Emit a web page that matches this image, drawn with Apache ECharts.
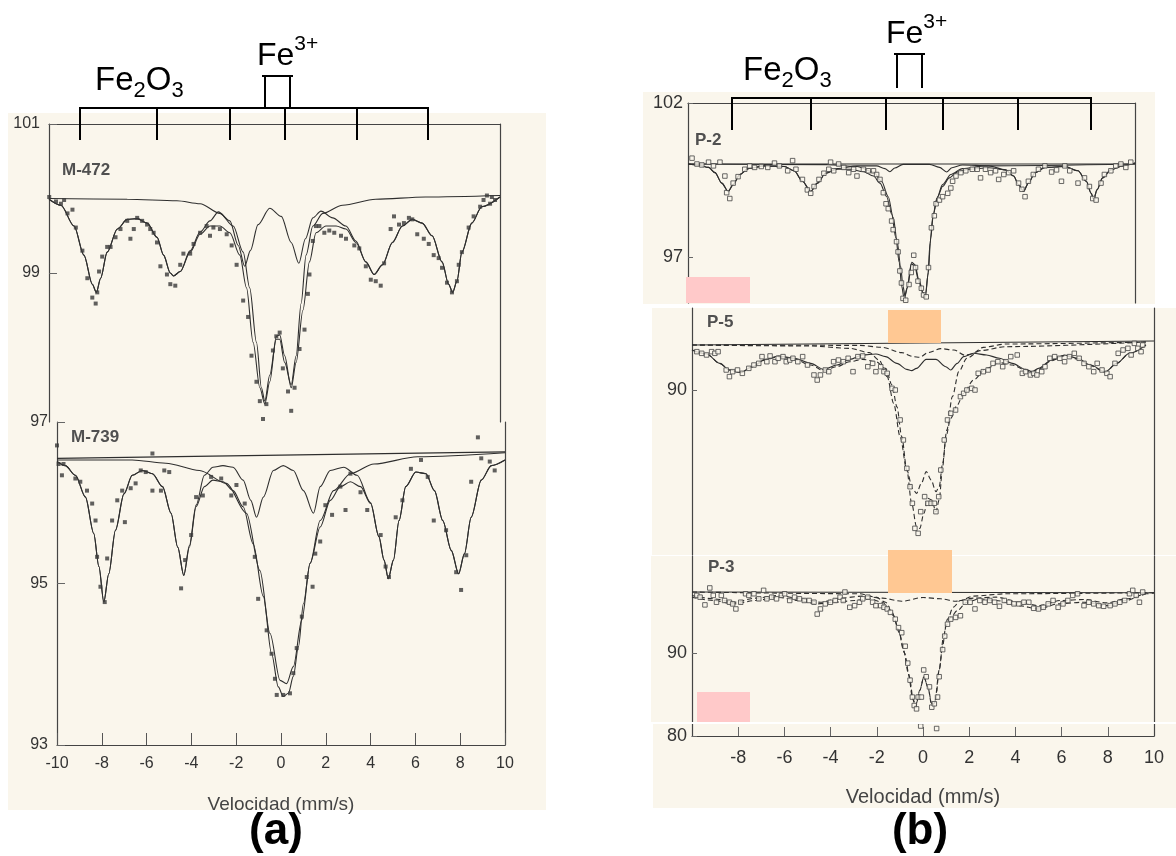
<!DOCTYPE html>
<html lang="es">
<head>
<meta charset="UTF-8">
<title>Espectros Mössbauer</title>
<script src="https://cdn.jsdelivr.net/npm/echarts@6.0.0/dist/echarts.min.js"></script>
</head>
<body style="margin:0;background:#fff">
<div id="main" style="width:1176px;height:856px"></div>
<script>
// ---- datos: [velocidad mm/s, transmision %] ----
// (a) M-472
var m472Points = [[-9.99,100.02],[-9.69,99.96],[-9.47,99.93],[-9.33,99.98],[-9.18,99.80],[-8.96,99.85],[-8.81,99.61],[-8.52,99.30],[-8.30,98.93],[-8.08,98.67],[-7.93,98.59],[-7.86,98.74],[-7.78,99.02],[-7.64,99.22],[-7.42,99.35],[-7.27,99.35],[-7.05,99.48],[-6.83,99.59],[-6.53,99.70],[-6.39,99.46],[-6.24,99.59],[-6.09,99.74],[-5.87,99.70],[-5.65,99.65],[-5.51,99.59],[-5.36,99.54],[-5.21,99.41],[-5.06,99.09],[-4.77,98.98],[-4.62,98.85],[-4.40,98.83],[-4.18,99.11],[-4.04,99.26],[-3.74,99.26],[-3.59,99.39],[-3.30,99.54],[-3.01,99.63],[-2.86,99.50],[-2.71,99.61],[-2.42,99.59],[-2.12,99.52],[-1.90,99.37],[-1.68,99.11],[-1.39,98.63],[-1.17,98.41],[-1.02,97.89],[-0.80,97.54],[-0.65,97.28],[-0.51,97.04],[-0.36,97.24],[-0.07,97.96],[0.08,98.15],[0.23,98.20],[0.37,97.72],[0.60,97.41],[0.74,97.15],[0.89,97.46],[1.11,97.98],[1.33,98.24],[1.48,98.72],[1.55,98.98],[1.70,99.43],[1.84,99.63],[1.99,99.63],[2.21,99.54],[2.43,99.57],[2.65,99.54],[2.95,99.50],[3.17,99.46],[3.54,99.37],[3.76,99.33],[4.05,99.09],[4.27,98.91],[4.49,98.89],[4.71,98.83],[4.86,99.13],[5.15,99.59],[5.30,99.76],[5.52,99.65],[5.74,99.67],[5.96,99.74],[6.11,99.72],[6.33,99.52],[6.62,99.46],[6.84,99.39],[7.06,99.24],[7.28,99.20],[7.43,99.07],[7.65,98.87],[7.87,98.74],[8.09,98.89],[8.17,99.11],[8.31,99.28],[8.61,99.61],[8.83,99.76],[9.12,99.89],[9.27,99.98],[9.42,100.04],[9.56,99.93],[9.64,100.02],[9.78,99.98]];
var m472Fit = [[-10,99.99],[-9.47,99.91],[-8.89,99.63],[-8.45,99.24],[-8.08,98.85],[-7.90,98.74],[-7.71,98.93],[-7.42,99.28],[-6.97,99.59],[-6.53,99.72],[-6.09,99.73],[-5.65,99.67],[-5.21,99.48],[-4.92,99.24],[-4.62,99.00],[-4.48,98.96],[-4.18,99.02],[-3.74,99.28],[-3.30,99.52],[-2.86,99.63],[-2.42,99.63],[-1.98,99.54],[-1.54,99.24],[-1.24,98.80],[-0.95,98.07],[-0.65,97.46],[-0.43,97.24],[-0.21,97.54],[0.08,98.15],[0.23,98.17],[0.45,97.89],[0.74,97.46],[0.96,97.80],[1.26,98.50],[1.55,99.15],[1.84,99.54],[2.28,99.63],[2.73,99.63],[3.17,99.59],[3.61,99.41],[4.05,99.15],[4.42,98.98],[4.79,99.11],[5.23,99.41],[5.67,99.63],[6.11,99.72],[6.55,99.67],[6.99,99.50],[7.43,99.15],[7.72,98.85],[7.90,98.74],[8.09,98.89],[8.31,99.28],[8.75,99.67],[9.19,99.89],[10,100.02]];
var m472Sextet = [[-10,99.99],[-9.47,99.91],[-8.89,99.63],[-8.45,99.24],[-8.08,98.85],[-7.90,98.74],[-7.71,98.93],[-7.42,99.28],[-6.97,99.59],[-6.53,99.72],[-6.09,99.73],[-5.65,99.67],[-5.21,99.48],[-4.92,99.24],[-4.62,99.00],[-4.48,98.96],[-4.18,99.02],[-3.74,99.30],[-3.30,99.55],[-2.86,99.70],[-2.49,99.82],[-1.98,99.70],[-1.61,99.37],[-1.32,99.09],[-1.07,99.30],[-0.73,99.65],[-0.21,99.87],[0.30,99.76],[0.74,99.41],[1.08,99.13],[1.37,99.46],[1.70,99.74],[2.06,99.83],[2.58,99.74],[3.17,99.63],[3.61,99.43],[4.05,99.15],[4.42,98.98],[4.79,99.11],[5.23,99.41],[5.67,99.63],[6.11,99.72],[6.55,99.67],[6.99,99.50],[7.43,99.15],[7.72,98.85],[7.90,98.74],[8.09,98.89],[8.31,99.28],[8.75,99.67],[9.19,99.89],[10,100.02]];
var m472Doublet = [[-10,100.00],[-6.53,99.99],[-4.33,99.97],[-3.30,99.93],[-2.42,99.80],[-1.83,99.63],[-1.39,99.28],[-1.10,98.80],[-0.80,98.07],[-0.58,97.46],[-0.43,97.28],[-0.21,97.63],[0.08,98.11],[0.23,98.11],[0.45,97.80],[0.74,97.50],[0.96,97.89],[1.18,98.59],[1.40,99.24],[1.70,99.63],[2.14,99.80],[3.02,99.91],[4.49,99.99],[6.70,100.02],[10,100.04]];

// (a) M-739
var m739Points = [[-10,96.71],[-9.93,96.48],[-9.71,96.48],[-9.78,96.34],[-9.18,96.30],[-8.96,96.26],[-8.66,96.15],[-8.43,95.99],[-8.28,95.78],[-8.21,95.33],[-8.06,94.96],[-7.87,94.77],[-7.76,95.31],[-7.54,95.78],[-7.31,96.03],[-7.09,96.15],[-6.97,95.76],[-6.71,96.18],[-6.49,96.24],[-6.26,96.40],[-6.04,96.38],[-5.74,96.15],[-5.74,96.61],[-5.36,96.15],[-5.21,96.40],[-4.99,96.38],[-4.46,94.94],[-4.28,95.29],[-4.01,95.60],[-3.79,96.07],[-3.49,96.09],[-3.12,96.32],[-2.67,96.30],[-2.22,96.09],[-1.99,96.22],[-1.62,95.99],[-1.17,95.33],[-1.02,94.81],[-0.64,94.42],[-0.42,94.13],[-0.27,93.82],[-0.19,93.62],[0.10,93.62],[0.40,93.64],[0.55,93.89],[0.70,94.20],[0.93,94.59],[1.15,95.08],[1.41,94.96],[1.53,95.37],[1.75,95.52],[1.98,95.97],[2.28,95.85],[2.65,96.20],[2.88,95.91],[3.10,96.36],[3.55,96.13],[3.85,95.91],[4.45,95.60],[4.67,95.21],[4.82,95.08],[5.12,95.82],[5.42,96.03],[5.80,96.42],[6.25,96.53],[6.55,96.32],[6.82,95.78],[7.37,95.66],[7.82,95.14],[8.04,94.92],[8.27,95.35],[8.49,96.26],[8.79,96.81],[8.94,96.55],[9.32,96.51],[9.54,96.40]];
var m739Base = [[-10,96.55],[10,96.63]];
var m739Fit = [[-10,96.51],[-9.63,96.46],[-9.18,96.34],[-8.73,96.07],[-8.36,95.62],[-8.13,95.21],[-7.91,94.77],[-7.69,95.12],[-7.39,95.66],[-7.01,96.11],[-6.64,96.34],[-6.19,96.40],[-5.74,96.36],[-5.29,96.20],[-4.91,95.87],[-4.61,95.45],[-4.34,95.10],[-4.09,95.45],[-3.79,95.95],[-3.42,96.20],[-3.04,96.28],[-2.59,96.26],[-2.14,96.15],[-1.69,95.95],[-1.24,95.49],[-0.79,94.84],[-0.42,94.13],[-0.12,93.72],[0.10,93.60],[0.33,93.64],[0.55,93.85],[0.78,94.22],[1.00,94.75],[1.30,95.25],[1.75,95.70],[2.20,96.03],[2.65,96.20],[3.10,96.26],[3.55,96.20],[4.00,95.99],[4.37,95.58],[4.60,95.29],[4.79,95.06],[5.02,95.29],[5.27,95.78],[5.57,96.20],[6.02,96.38],[6.47,96.36],[6.85,96.15],[7.22,95.78],[7.60,95.41],[7.93,95.12],[8.19,95.37],[8.49,95.82],[8.94,96.28],[9.39,96.46],[10,96.53]];
var m739Sextet = [[-10,96.51],[-9.63,96.46],[-9.18,96.34],[-8.73,96.07],[-8.36,95.62],[-8.13,95.21],[-7.91,94.77],[-7.69,95.12],[-7.39,95.66],[-7.01,96.11],[-6.64,96.34],[-6.19,96.40],[-5.74,96.36],[-5.29,96.20],[-4.91,95.87],[-4.61,95.45],[-4.34,95.10],[-4.09,95.47],[-3.79,95.97],[-3.42,96.34],[-3.04,96.44],[-2.59,96.46],[-2.14,96.44],[-1.69,96.28],[-1.35,96.03],[-1.09,95.82],[-0.79,96.07],[-0.34,96.40],[0.10,96.46],[0.55,96.40],[1.00,96.15],[1.45,95.87],[1.75,96.20],[2.20,96.40],[2.80,96.44],[3.40,96.34],[4.00,96.00],[4.37,95.58],[4.60,95.29],[4.79,95.06],[5.02,95.29],[5.27,95.78],[5.57,96.20],[6.02,96.38],[6.47,96.36],[6.85,96.15],[7.22,95.78],[7.60,95.41],[7.93,95.12],[8.19,95.37],[8.49,95.82],[8.94,96.28],[9.39,96.46],[10,96.53]];
var m739Doublet = [[-10,96.53],[-6.64,96.53],[-5.14,96.49],[-3.64,96.40],[-2.44,96.24],[-1.54,95.87],[-0.94,95.16],[-0.49,94.38],[-0.04,93.80],[0.25,93.76],[0.55,93.97],[0.93,94.55],[1.30,95.25],[1.75,95.78],[2.35,96.15],[3.10,96.36],[4.15,96.48],[6.10,96.57],[10,96.62]];

// (b) P-2
var p2Points = [[-9.82,100.21],[-9.60,100.02],[-9.38,99.99],[-9.08,100.08],[-8.86,99.96],[-8.57,100.08],[-8.35,99.63],[-8.27,99.09],[-8.13,98.90],[-7.98,99.40],[-7.76,99.61],[-7.46,99.85],[-7.24,99.96],[-7.02,99.91],[-6.72,99.94],[-6.43,99.91],[-6.13,100.05],[-5.91,99.96],[-5.54,99.80],[-5.32,100.13],[-5.17,99.85],[-4.88,99.52],[-4.66,99.18],[-4.51,99.07],[-4.36,99.29],[-4.14,99.52],[-3.92,99.72],[-3.70,99.85],[-3.62,100.08],[-3.48,99.80],[-3.26,100.02],[-3.03,99.91],[-2.81,99.74],[-2.59,99.85],[-2.44,99.63],[-2.15,99.85],[-1.93,99.80],[-1.70,99.80],[-1.56,99.68],[-1.41,99.52],[-1.26,99.09],[-1.14,98.73],[-1.04,98.57],[-0.89,98.17],[-0.82,97.89],[-0.67,97.50],[-0.60,97.17],[-0.52,96.55],[-0.45,96.16],[-0.38,95.66],[-0.26,95.60],[-0.11,96.11],[-0.01,96.50],[0.10,97.06],[0.18,96.66],[0.29,96.22],[0.44,95.99],[0.54,95.77],[0.66,95.71],[0.76,96.66],[0.89,97.95],[1.02,98.34],[1.10,98.73],[1.25,98.85],[1.39,98.96],[1.62,99.07],[1.76,99.24],[1.84,99.46],[1.99,99.63],[2.21,99.74],[2.43,99.80],[2.72,99.85],[2.94,99.85],[3.09,99.57],[3.31,99.85],[3.54,99.74],[3.76,99.80],[3.90,99.52],[4.13,99.68],[4.35,99.74],[4.57,99.80],[4.79,99.40],[4.94,99.20],[5.08,98.96],[5.23,99.46],[5.45,99.68],[5.68,99.85],[5.97,99.96],[6.27,99.76],[6.49,99.83],[6.71,99.46],[6.86,99.96],[7.08,99.80],[7.45,99.40],[7.74,99.57],[7.96,99.29],[8.11,98.90],[8.26,98.85],[8.48,99.40],[8.63,99.68],[8.92,99.80],[9.14,99.96],[9.37,100.02],[9.59,99.91],[9.81,100.08]];
var p2Base = [[-10,100.02],[10,100.02]];
var p2Fit = [[-10,100.02],[-9.53,99.99],[-9.08,99.91],[-8.79,99.74],[-8.49,99.40],[-8.20,99.13],[-7.98,99.35],[-7.68,99.68],[-7.31,99.87],[-6.58,99.96],[-5.69,99.94],[-5.25,99.80],[-4.88,99.46],[-4.51,99.13],[-4.21,99.40],[-3.84,99.72],[-3.33,99.85],[-2.74,99.85],[-2.15,99.77],[-1.70,99.63],[-1.41,99.40],[-1.11,98.96],[-0.89,98.40],[-0.70,97.62],[-0.55,96.83],[-0.44,96.05],[-0.33,95.66],[-0.20,95.99],[-0.01,96.78],[0.14,96.72],[0.32,96.22],[0.51,95.83],[0.63,95.77],[0.75,96.50],[0.86,97.62],[0.98,98.40],[1.17,98.96],[1.39,99.29],[1.69,99.57],[2.06,99.76],[2.58,99.85],[3.46,99.90],[4.20,99.83],[4.57,99.63],[4.79,99.35],[5.01,99.13],[5.23,99.40],[5.53,99.74],[5.97,99.91],[6.86,99.94],[7.45,99.80],[7.82,99.46],[8.04,99.07],[8.15,98.87],[8.30,99.18],[8.55,99.57],[8.92,99.83],[9.44,99.96],[10,100.05]];
var p2Sextet = [[-10,100.02],[-9.53,99.99],[-9.08,99.91],[-8.79,99.74],[-8.49,99.40],[-8.20,99.13],[-7.98,99.35],[-7.68,99.68],[-7.31,99.87],[-6.58,99.96],[-5.69,99.94],[-5.25,99.80],[-4.88,99.46],[-4.51,99.13],[-4.21,99.40],[-3.84,99.72],[-3.33,99.87],[-2.44,99.96],[-1.56,99.96],[-1.19,99.87],[-0.97,99.77],[-0.75,99.89],[-0.38,100.01],[0.80,100.01],[1.25,99.91],[1.57,99.76],[1.81,99.90],[2.28,99.99],[3.46,99.96],[4.20,99.83],[4.57,99.63],[4.79,99.35],[5.01,99.13],[5.23,99.40],[5.53,99.74],[5.97,99.91],[6.86,99.94],[7.45,99.80],[7.82,99.46],[8.04,99.07],[8.15,98.87],[8.30,99.18],[8.55,99.57],[8.92,99.83],[9.44,99.96],[10,100.05]];
var p2Doublet = [[-10,100.02],[-3.77,100.00],[-2.44,99.94],[-1.70,99.76],[-1.34,99.46],[-1.04,98.96],[-0.82,98.29],[-0.64,97.50],[-0.49,96.72],[-0.38,96.05],[-0.29,95.74],[-0.17,96.05],[0.01,96.83],[0.15,96.76],[0.33,96.27],[0.52,95.85],[0.63,95.80],[0.73,96.39],[0.83,97.45],[0.95,98.29],[1.13,98.90],[1.39,99.35],[1.76,99.68],[2.28,99.87],[3.31,99.96],[10,100.02]];

// (b) P-5
var p5Points = [[-9.79,94.62],[-9.58,94.42],[-9.37,94.22],[-9.15,94.62],[-9.01,94.42],[-8.87,94.62],[-8.52,92.41],[-8.38,91.61],[-8.24,92.21],[-8.03,92.41],[-7.82,92.01],[-7.54,92.61],[-7.32,93.01],[-7.11,93.21],[-6.97,94.02],[-6.76,93.41],[-6.62,94.10],[-6.41,93.41],[-6.27,93.82],[-6.06,94.02],[-5.92,93.41],[-5.77,93.61],[-5.63,93.82],[-5.42,93.41],[-5.21,94.02],[-5.00,93.01],[-4.72,91.81],[-4.58,91.20],[-4.44,91.81],[-4.23,92.41],[-4.08,92.21],[-3.87,93.41],[-3.66,93.61],[-3.45,93.41],[-3.24,93.82],[-3.03,92.21],[-2.82,94.02],[-2.61,94.10],[-2.39,92.81],[-2.18,93.21],[-2.04,92.21],[-1.83,92.81],[-1.69,92.21],[-1.55,92.01],[-1.34,90.20],[-1.20,90.00],[-0.99,86.39],[-0.85,83.98],[-0.70,80.56],[-0.56,78.35],[-0.46,76.35],[-0.35,73.33],[-0.21,72.73],[-0.10,75.34],[0.07,77.15],[0.21,76.35],[0.35,76.35],[0.49,76.35],[0.56,75.34],[0.68,77.15],[0.77,80.36],[0.92,83.98],[1.06,86.39],[1.20,87.19],[1.41,87.59],[1.62,89.20],[1.76,89.60],[1.90,90.00],[2.11,90.20],[2.25,90.00],[2.39,92.01],[2.61,92.21],[2.82,92.41],[3.03,93.21],[3.24,93.41],[3.45,92.81],[3.59,93.41],[3.80,94.02],[4.08,94.22],[4.30,92.01],[4.44,92.21],[4.65,91.81],[4.79,92.01],[4.93,91.81],[5.14,92.21],[5.28,92.81],[5.49,93.82],[5.70,94.02],[5.92,93.82],[6.13,93.41],[6.34,94.02],[6.55,94.42],[6.76,93.82],[6.97,93.21],[7.18,92.81],[7.39,92.21],[7.54,93.21],[7.75,92.41],[7.96,92.01],[8.10,91.61],[8.31,93.21],[8.45,94.42],[8.66,94.82],[8.87,95.02],[9.01,94.22],[9.15,95.62],[9.30,95.02],[9.44,94.62],[9.51,95.42]];
var p5Base = [[-10,95.42],[10,95.90]];
var p5Fit = [[-10,94.82],[-9.37,94.34],[-8.80,93.21],[-8.38,92.41],[-7.89,92.09],[-7.39,92.81],[-6.83,93.61],[-6.27,94.02],[-5.56,93.69],[-4.86,93.01],[-4.30,92.33],[-3.73,92.81],[-3.17,93.41],[-2.61,93.69],[-2.04,93.41],[-1.62,92.61],[-1.34,90.60],[-1.13,87.99],[-0.92,84.38],[-0.70,80.36],[-0.49,76.35],[-0.28,73.53],[-0.14,73.33],[0.04,75.14],[0.21,76.95],[0.38,76.75],[0.56,75.34],[0.70,76.75],[0.85,80.76],[0.99,84.38],[1.20,86.59],[1.48,88.19],[1.76,89.60],[2.18,91.20],[2.75,92.61],[3.31,93.29],[3.87,93.01],[4.44,92.41],[4.72,92.09],[5.00,92.49],[5.56,93.53],[6.13,94.14],[6.69,93.73],[7.25,92.93],[7.89,92.13],[8.38,93.21],[8.94,94.42],[9.65,95.42]];
var p5Sextet = [[-10,94.82],[-9.37,94.34],[-8.80,93.21],[-8.38,92.41],[-7.89,92.09],[-7.39,92.81],[-6.83,93.69],[-6.27,94.10],[-5.56,93.82],[-4.86,93.21],[-4.30,92.49],[-3.73,93.01],[-3.17,93.69],[-2.61,94.22],[-2.04,94.34],[-1.62,94.02],[-1.13,93.21],[-0.70,92.49],[-0.49,92.33],[-0.28,92.61],[0.14,93.69],[0.56,93.69],[0.99,92.81],[1.20,92.41],[1.48,93.21],[1.76,94.02],[2.18,94.42],[2.75,94.22],[3.31,93.82],[3.87,93.21],[4.44,92.49],[4.72,92.21],[5.00,92.61],[5.56,93.61],[6.13,94.22],[6.69,93.82],[7.25,93.01],[7.89,92.21],[8.38,93.21],[8.94,94.42],[9.65,95.42]];
var p5Small = [[-10,95.42],[-2.75,95.38],[-1.76,95.14],[-0.92,94.50],[-0.42,94.02],[-0.14,93.94],[0.21,94.50],[0.77,94.98],[1.34,94.82],[1.83,94.18],[2.11,94.34],[2.61,95.14],[3.59,95.54],[9.65,95.78]];
var p5Doublet = [[-10,95.42],[-4.86,95.30],[-3.17,95.02],[-2.32,94.50],[-1.90,93.61],[-1.55,91.61],[-1.27,88.39],[-0.99,84.38],[-0.70,80.36],[-0.46,78.15],[-0.28,77.55],[-0.07,78.76],[0.14,80.16],[0.35,79.16],[0.56,77.75],[0.70,78.35],[0.85,81.16],[1.03,85.18],[1.27,89.20],[1.55,92.21],[1.90,93.82],[2.46,94.74],[3.59,95.22],[9.65,95.78]];

// (b) P-3
var p3Points = [[-9.79,96.94],[-9.65,96.73],[-9.44,95.80],[-9.23,97.84],[-9.08,96.94],[-8.94,96.12],[-8.73,96.94],[-8.59,96.33],[-8.38,96.12],[-8.24,95.92],[-8.10,95.31],[-7.89,96.12],[-7.68,97.14],[-7.54,96.94],[-7.32,97.14],[-7.11,96.53],[-6.90,97.55],[-6.76,96.53],[-6.55,96.73],[-6.34,96.53],[-6.13,96.94],[-5.99,97.14],[-5.77,96.33],[-5.56,96.73],[-5.35,96.53],[-5.14,96.33],[-4.93,96.33],[-4.72,96.12],[-4.58,94.69],[-4.44,95.31],[-4.23,95.92],[-4.01,96.12],[-3.80,96.33],[-3.59,96.73],[-3.45,96.33],[-3.38,97.35],[-3.17,95.51],[-2.96,95.71],[-2.75,96.12],[-2.61,96.53],[-2.39,96.73],[-2.18,96.12],[-2.04,95.71],[-1.83,95.71],[-1.69,95.51],[-1.55,95.31],[-1.41,94.90],[-1.20,94.08],[-1.06,93.06],[-0.92,92.45],[-0.77,90.82],[-0.66,88.78],[-0.56,86.73],[-0.46,84.69],[-0.38,83.67],[-0.28,83.27],[-0.21,84.69],[-0.07,84.69],[0.03,87.96],[0.14,87.14],[0.28,85.92],[0.38,83.47],[0.49,83.88],[0.63,84.69],[0.70,87.14],[0.85,90.41],[0.94,92.04],[1.06,93.47],[1.20,94.08],[1.41,94.29],[1.62,94.49],[1.83,96.12],[2.04,96.12],[2.25,95.31],[2.46,96.33],[2.68,96.12],[2.89,96.33],[3.10,96.12],[3.31,95.63],[3.52,96.33],[3.73,96.12],[3.94,95.92],[4.15,95.92],[4.37,96.12],[4.58,96.12],[4.79,95.39],[5.00,95.31],[5.21,95.51],[5.42,95.92],[5.63,96.33],[5.85,95.51],[6.06,95.92],[6.27,96.33],[6.48,96.94],[6.69,97.14],[6.97,95.71],[7.18,96.12],[7.39,95.92],[7.61,95.71],[7.82,95.63],[8.10,95.71],[8.31,95.92],[8.52,96.12],[8.73,96.33],[8.94,97.14],[9.08,97.55],[9.23,96.94],[9.37,96.12],[9.51,97.35],[-0.10,81.20],[0.59,80.90]];
var p3Base = [[-10,97.35],[10,97.27]];
var p3Fit = [[-10,96.73],[-9.08,96.33],[-8.17,95.92],[-7.25,96.33],[-6.27,96.73],[-5.42,96.33],[-4.58,95.92],[-3.87,96.12],[-2.89,96.33],[-2.32,96.53],[-1.76,96.12],[-1.34,94.90],[-1.06,92.86],[-0.85,90.41],[-0.63,87.55],[-0.46,84.69],[-0.32,83.47],[-0.14,85.51],[0.04,87.14],[0.21,85.92],[0.38,83.67],[0.54,84.08],[0.70,87.96],[0.85,90.82],[0.99,93.27],[1.20,94.29],[1.48,95.10],[1.90,96.12],[2.46,96.53],[3.17,96.33],[4.15,95.71],[5.00,95.31],[5.85,95.92],[6.97,96.12],[7.96,95.71],[8.80,96.33],[9.65,97.14],[10,97.25]];
var p3Sextet = [[-10,96.94],[-9.08,96.53],[-8.17,96.12],[-7.25,96.61],[-6.27,96.94],[-5.42,96.61],[-4.44,96.12],[-3.59,96.61],[-2.61,96.86],[-1.76,96.61],[-0.92,96.24],[0.00,96.69],[0.77,96.53],[1.41,96.24],[2.18,96.61],[3.17,96.73],[4.15,96.12],[5.00,95.71],[5.99,96.33],[6.97,96.45],[7.96,96.04],[8.80,96.53],[9.65,97.14]];
var p3Doublet = [[-10,97.35],[-2.75,97.14],[-2.04,96.73],[-1.62,96.12],[-1.27,94.49],[-1.03,92.45],[-0.80,90.00],[-0.59,87.14],[-0.42,84.29],[-0.32,83.67],[-0.14,85.51],[0.04,87.14],[0.21,85.92],[0.38,83.88],[0.52,84.29],[0.70,87.96],[0.89,92.04],[1.06,94.08],[1.31,95.51],[1.62,96.33],[2.18,96.86],[3.59,97.14],[10,97.27]];

// marcas de lineas (velocidades) y etiquetas de ejes
var fe2o3LinesA = [-8.62, -5.22, -1.96, 0.45, 3.66, 6.79];
var fe3LinesA = [-0.40, 0.67];
var fe2o3LinesB = [-8.03, -4.50, -1.14, 1.41, 4.77, 8.03];
var fe3LinesB = [-0.65, 0.47];
var velTicksB = [-8, -6, -4, -2, 0, 2, 4, 6, 8, 10];
var p2YTicks = [97, 102];
var p5YTicks = [90];
var p3YTicks = [80, 90];

var chart = echarts.init(document.getElementById('main'));
var INK = '#333';
var FONT = '"Liberation Sans", Arial, Helvetica, sans-serif';
var PAPER = '#faf6ec';

// rejillas: (a) arriba, (a) abajo, P-2, P-5, P-3
var grids = [
    {left: 49, top: 124, width: 451, height: 298},
    {left: 57, top: 422, width: 448, height: 323},
    {left: 688, top: 103, width: 447, height: 200},
    {left: 692, top: 308, width: 462, height: 247},
    {left: 692, top: 556, width: 462, height: 180}
];
var yRanges = [[97, 101], [93, 97], [95.51, 102], [70.12, 99.88], [80, 101.69]];
var axisLine = {show: true, onZero: false, lineStyle: {color: '#444', width: 1.2}};

var xAxes = grids.map(function (g, i) {
    return {
        gridIndex: i, type: 'value', min: -10, max: 10, interval: 2,
        position: (i === 0 || i === 2) ? 'top' : 'bottom',
        axisLine: i === 3 ? {show: false} : axisLine,
        axisTick: {show: false}, axisLabel: {show: false}, splitLine: {show: false}
    };
});
xAxes[1].axisTick = {show: true, inside: true, length: 12, lineStyle: {color: '#555'}};
xAxes[1].axisLabel = {show: true, margin: 11, color: INK, fontSize: 16, fontFamily: FONT};
xAxes[1].name = 'Velocidad (mm/s)';
xAxes[1].nameLocation = 'middle';
xAxes[1].nameGap = 50;
xAxes[1].nameTextStyle = {color: '#444', fontSize: 19, fontFamily: FONT};
xAxes[4].axisTick = {show: true, inside: true, length: 9, customValues: [-8, -6, -4, -2, 0, 2, 4, 6, 8], lineStyle: {color: '#666'}};
xAxes[4].axisLabel = {show: true, margin: 13, color: INK, fontSize: 18, fontFamily: FONT, customValues: velTicksB};
xAxes[4].name = 'Velocidad (mm/s)';
xAxes[4].nameLocation = 'middle';
xAxes[4].nameGap = 51;
xAxes[4].nameTextStyle = {color: '#444', fontSize: 20, fontFamily: FONT};

var yAxes = [];
grids.forEach(function (g, i) {
    var left = {
        gridIndex: i, type: 'value', min: yRanges[i][0], max: yRanges[i][1], position: 'left',
        axisLine: axisLine,
        axisTick: {show: true, inside: true, length: i < 2 ? 8 : 5, lineStyle: {color: '#666'}},
        axisLabel: {color: INK, fontSize: i < 2 ? 16 : 18, fontFamily: FONT, margin: i < 2 ? 9 : 5},
        splitLine: {show: false}
    };
    if (i < 2) {
        left.interval = 2;
        if (i === 0) left.axisLabel.showMinLabel = false;
    } else {
        var vals = [p2YTicks, p5YTicks, p3YTicks][i - 2];
        left.axisLabel.customValues = vals;
        left.axisTick.customValues = vals;
    }
    yAxes.push(left);
    yAxes.push({
        gridIndex: i, type: 'value', min: yRanges[i][0], max: yRanges[i][1], position: 'right',
        axisLine: axisLine, axisTick: {show: false}, axisLabel: {show: false}, splitLine: {show: false}
    });
});

function fit(data, gi, dashed) {
    return {
        type: 'line', xAxisIndex: gi, yAxisIndex: gi * 2, data: data,
        symbol: 'none', smooth: 0.3, smoothMonotone: 'x', silent: true, z: 3,
        lineStyle: {color: '#2e2e2e', width: 1.1, type: dashed ? [5, 3] : 'solid'}
    };
}
function dots(data, gi, hollow) {
    return {
        type: 'scatter', xAxisIndex: gi, yAxisIndex: gi * 2, data: data,
        symbol: 'rect', symbolSize: hollow ? 4.5 : 4, silent: true, z: 4,
        itemStyle: hollow ? {color: PAPER, borderColor: '#444', borderWidth: 1} : {color: '#3a3a3a'}
    };
}

chart.setOption({
    animation: false,
    textStyle: {fontFamily: FONT},
    grid: grids,
    xAxis: xAxes,
    yAxis: yAxes,
    series: [
        fit(m472Doublet, 0), fit(m472Sextet, 0), fit(m472Fit, 0), dots(m472Points, 0),
        fit(m739Base, 1), fit(m739Doublet, 1), fit(m739Sextet, 1), fit(m739Fit, 1), dots(m739Points, 1),
        fit(p2Base, 2), fit(p2Doublet, 2), fit(p2Sextet, 2), fit(p2Fit, 2), dots(p2Points, 2, true),
        fit(p5Base, 3), fit(p5Sextet, 3), fit(p5Small, 3, true), fit(p5Doublet, 3, true), fit(p5Fit, 3, true), dots(p5Points, 3, true),
        fit(p3Base, 4), fit(p3Sextet, 4, true), fit(p3Doublet, 4, true), fit(p3Fit, 4, true), dots(p3Points, 4, true)
    ]
});

// ---- graficos: fondo escaneado, marcas Fe2O3 / Fe3+, rotulos ----
var measure = document.createElement('canvas').getContext('2d');
function textWidth(str, font) { measure.font = font; return measure.measureText(str).width; }

function rect(x, y, w, h, fill, z) {
    return {type: 'rect', z: z, silent: true, shape: {x: x, y: y, width: w, height: h}, style: {fill: fill}};
}
function label(str, x, baseline, size, opts) {
    opts = opts || {};
    var font = (opts.weight || 'normal') + ' ' + size + 'px ' + FONT;
    return {
        type: 'text', z: 60, silent: true, x: x, y: baseline - 0.35 * size,
        style: {text: str, font: font, fill: opts.color || '#000', align: opts.align || 'left', verticalAlign: 'middle'}
    };
}
function formula(x, baseline, parts, size) {
    var els = [];
    var small = Math.round(size * 0.66);
    parts.forEach(function (p) {
        var s = p[1] ? small : size;
        var b = p[1] === 'sub' ? baseline + size * 0.19 : (p[1] === 'sup' ? baseline - size * 0.47 : baseline);
        els.push(label(p[0], x, b, s));
        x += textWidth(p[0], s + 'px ' + FONT);
    });
    return els;
}
function seg(x1, y1, x2, y2) {
    return {type: 'line', z: 60, silent: true, shape: {x1: x1, y1: y1, x2: x2, y2: y2}, style: {stroke: '#000', lineWidth: 2}};
}
function sticks(gi, lines, doublet, g) {
    var top = yRanges[gi][1];
    var xs = lines.map(function (v) { return Math.round(chart.convertToPixel({gridIndex: gi}, [v, top])[0]); });
    var ds = doublet.map(function (v) { return Math.round(chart.convertToPixel({gridIndex: gi}, [v, top])[0]); });
    var els = [seg(xs[0] - 1, g.bar, xs[xs.length - 1] + 1, g.bar)];
    xs.forEach(function (x) { els.push(seg(x, g.bar, x, g.foot)); });
    els.push(seg(ds[0] - 3, g.dTop, ds[1] + 3, g.dTop));
    ds.forEach(function (x) { els.push(seg(x, g.dTop, x, g.dFoot)); });
    return els;
}

var fe2o3 = [['Fe'], ['2', 'sub'], ['O'], ['3', 'sub']];
var fe3 = [['Fe'], ['3+', 'sup']];

var elements = [
    // papel escaneado
    rect(8, 113, 538, 697, PAPER, -10),
    rect(643, 92, 512, 212, PAPER, -10),
    rect(652, 308, 524, 247, PAPER, -10),
    rect(651, 556, 525, 166, PAPER, -10),
    rect(653, 724, 523, 84, PAPER, -10),
    // cortes blancos y recuadros de color
    rect(651, 722, 525, 2, '#ffffff', 90),
    rect(686, 277, 64, 26, '#ffc9c9', 100),
    rect(888, 310, 53, 33, '#ffc893', 100),
    rect(888, 550, 64, 43, '#ffc893', 100),
    rect(697, 692, 53, 30, '#ffc9c9', 100),
    // nombres de muestras
    label('M-472', 62, 176, 17, {weight: 'bold', color: '#505050'}),
    label('M-739', 71, 443, 17, {weight: 'bold', color: '#505050'}),
    label('P-2', 695, 146, 17, {weight: 'bold', color: '#505050'}),
    label('P-5', 707, 328, 17, {weight: 'bold', color: '#505050'}),
    label('P-3', 708, 573, 17, {weight: 'bold', color: '#505050'}),
    // rotulos de paneles
    label('(a)', 276, 847, 44, {weight: 'bold', align: 'center'}),
    label('(b)', 920, 847, 44, {weight: 'bold', align: 'center'})
];
elements = elements
    .concat(sticks(0, fe2o3LinesA, fe3LinesA, {bar: 108, foot: 140, dTop: 76, dFoot: 108}))
    .concat(sticks(2, fe2o3LinesB, fe3LinesB, {bar: 98, foot: 130, dTop: 54, dFoot: 88}))
    .concat(formula(95, 92, fe2o3, 33))
    .concat(formula(257, 67, fe3, 32))
    .concat(formula(743, 82, fe2o3, 33))
    .concat(formula(886, 45, fe3, 32));

chart.setOption({graphic: {elements: elements}});
</script>
</body>
</html>
